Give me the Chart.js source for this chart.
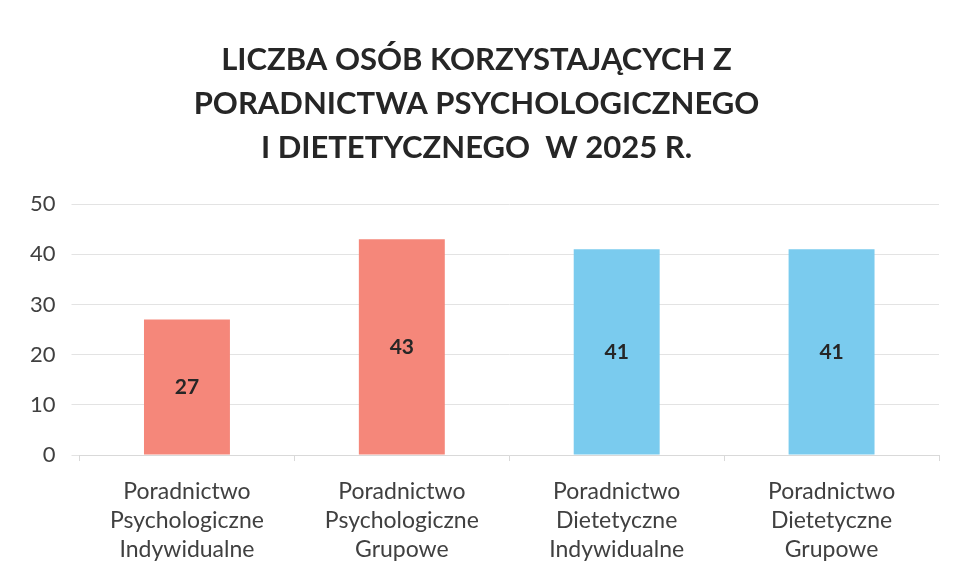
<!DOCTYPE html>
<html>
<head>
<meta charset="utf-8">
<script src="https://cdn.jsdelivr.net/npm/chart.js@4"></script>
<style>
  html, body { margin: 0; padding: 0; background: #fff; }
  #wrap { width: 957px; height: 580px; position: relative; }
</style>
</head>
<body>
<div id="wrap"><canvas id="chart" width="957" height="580"></canvas></div>
<script>
const categories = [
  ['Poradnictwo', 'Psychologiczne', 'Indywidualne'],
  ['Poradnictwo', 'Psychologiczne', 'Grupowe'],
  ['Poradnictwo', 'Dietetyczne', 'Indywidualne'],
  ['Poradnictwo', 'Dietetyczne', 'Grupowe']
];
const values = [27, 43, 41, 41];
const barColors = ['#f5877a', '#f5877a', '#7acbee', '#7acbee'];
const titleLines = [
  'LICZBA OSÓB KORZYSTAJĄCYCH Z',
  'PORADNICTWA PSYCHOLOGICZNEGO',
  'I DIETETYCZNEGO  W 2025 R.'
];

// values written in the middle of each bar
const centerLabels = {
  id: 'centerLabels',
  afterDatasetsDraw(chart) {
    const ctx = chart.ctx;
    const meta = chart.getDatasetMeta(0);
    ctx.save();
    ctx.font = 'bold 21px Lato';
    ctx.fillStyle = '#262626';
    ctx.textAlign = 'center';
    ctx.textBaseline = 'middle';
    meta.data.forEach((bar, i) => {
      const y = (bar.y + bar.base) / 2;
      ctx.fillText(String(values[i]), bar.x, y);
    });
    ctx.restore();
  }
};

const ctx = document.getElementById('chart').getContext('2d');
new Chart(ctx, {
  type: 'bar',
  data: {
    labels: categories,
    datasets: [{
      data: values,
      backgroundColor: barColors,
      categoryPercentage: 1,
      barPercentage: 0.4
    }]
  },
  options: {
    responsive: false,
    animation: false,
    layout: { padding: { left: 14, right: 18, top: 0, bottom: 0 } },
    plugins: {
      legend: { display: false },
      tooltip: { enabled: false },
      title: {
        display: true,
        text: titleLines,
        color: '#262626',
        font: { family: 'Lato', size: 31, weight: 'bold', lineHeight: 1.42 },
        padding: { top: 38, bottom: 34 }
      }
    },
    scales: {
      x: {
        grid: {
          drawOnChartArea: false,
          drawTicks: true,
          tickLength: 6,
          color: '#d9d9d9'
        },
        border: { color: '#d9d9d9' },
        ticks: {
          color: '#404040',
          padding: 16,
          font: { family: 'Lato', size: 23, lineHeight: 1.26 }
        }
      },
      y: {
        min: 0,
        max: 50,
        ticks: {
          stepSize: 10,
          color: '#404040',
          padding: 16,
          font: { family: 'Lato', size: 22 }
        },
        grid: { color: '#e3e3e3', tickLength: 8 },
        border: { display: false }
      }
    }
  },
  plugins: [centerLabels]
});
</script>
</body>
</html>
